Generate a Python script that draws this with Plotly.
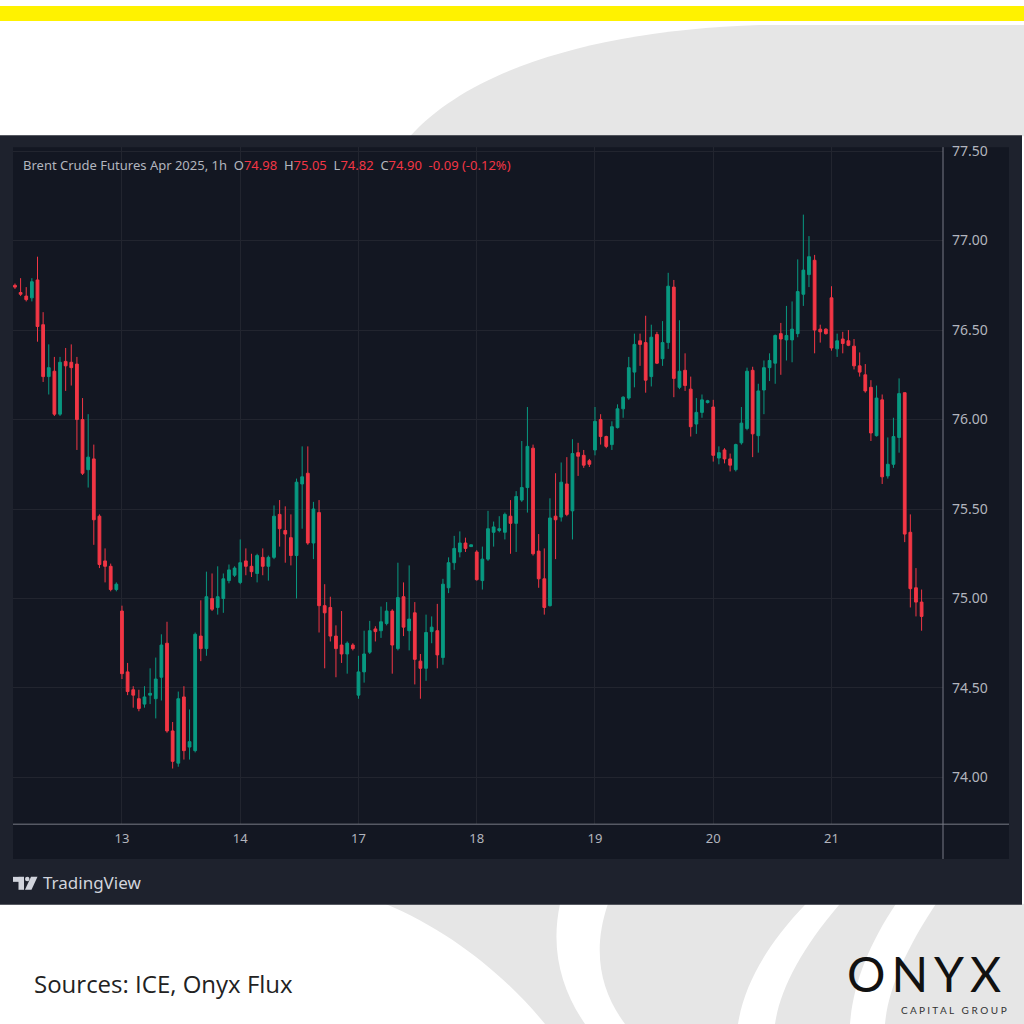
import plotly.graph_objects as go

# hourly bars, Brent Crude Futures Apr 2025 (ICE)
day_labels = ["12", "13", "14", "17", "18", "19", "20", "21"]
bars_per_day = [19, 21, 21, 21, 21, 21, 21, 17]

open_ = [
    76.75, 76.71, 76.69, 76.68, 76.78, 76.53, 76.24, 76.27, 76.03, 76.325,
    76.32, 76.31, 76.00, 75.72, 75.78, 75.46, 75.21, 75.18, 75.05,
    74.93, 74.59, 74.49, 74.44, 74.41, 74.46, 74.44, 74.56, 74.75, 74.26,
    74.08, 74.45, 74.17, 74.15, 74.79, 74.72, 75.00, 74.95, 75.00, 75.10, 75.13,
    75.09, 75.21, 75.18, 75.14, 75.23, 75.18, 75.23, 75.47, 75.38, 75.34,
    75.24, 75.64, 75.70, 75.31, 75.48, 74.96, 74.95, 74.79, 74.74, 74.69, 74.74,
    74.46, 74.59, 74.70, 74.83, 74.82, 74.86, 74.93, 74.72, 75.01, 74.82,
    74.92, 74.65, 74.61, 74.815, 74.82, 74.67, 75.06, 75.20, 75.26, 75.31, 75.29,
    75.26, 75.10, 75.22, 75.37, 75.38, 75.37, 75.46, 75.42, 75.55, 75.62,
    75.84, 75.265, 75.11, 74.96, 75.46, 75.455, 75.64, 75.49, 75.815, 75.80, 75.77,
    75.83, 76.00, 75.905, 75.86, 75.955, 76.06, 76.12, 76.265, 76.44, 76.43,
    76.24, 76.475, 76.34, 76.43, 76.74, 76.18, 76.275, 76.17, 75.975, 76.04, 76.095,
    76.07, 75.785, 75.83, 75.78, 75.72, 75.87, 75.95, 76.275, 75.91, 76.165,
    76.29, 76.315, 76.48, 76.445, 76.445, 76.48, 76.70, 76.81, 76.89, 76.505, 76.505,
    76.68, 76.395, 76.45, 76.44, 76.41, 76.30, 76.25, 76.18, 75.91, 76.11,
    75.685, 75.75, 75.90, 76.15, 75.37, 75.06, 74.98,
]
high = [
    76.76, 76.79, 76.74, 76.79, 76.91, 76.60, 76.42, 76.35, 76.35, 76.40,
    76.42, 76.35, 76.12, 76.03, 75.86, 75.47, 75.28, 75.195, 75.09,
    74.96, 74.64, 74.51, 74.49, 74.51, 74.61, 74.67, 74.80, 74.87, 74.31,
    74.48, 74.51, 74.38, 74.81, 74.99, 75.15, 75.14, 75.18, 75.14, 75.19, 75.18,
    75.33, 75.28, 75.25, 75.25, 75.28, 75.24, 75.52, 75.55, 75.515, 75.47,
    75.67, 75.85, 75.85, 75.54, 75.55, 75.08, 75.01, 74.85, 74.93, 74.76, 74.75,
    74.68, 74.82, 74.875, 74.845, 74.955, 74.98, 74.94, 75.20, 75.09, 75.185,
    74.98, 74.69, 74.91, 74.90, 74.97, 75.11, 75.23, 75.35, 75.375, 75.34, 75.30,
    75.27, 75.29, 75.49, 75.43, 75.46, 75.48, 75.55, 75.60, 75.88, 76.07,
    75.86, 75.36, 75.28, 75.56, 75.70, 75.76, 75.79, 75.89, 75.87, 75.83, 75.78,
    76.07, 76.03, 75.91, 75.99, 76.085, 76.13, 76.35, 76.48, 76.48, 76.58,
    76.53, 76.49, 76.55, 76.82, 76.78, 76.555, 76.37, 76.24, 76.12, 76.14, 76.11,
    76.11, 75.85, 75.84, 75.81, 75.865, 76.07, 76.29, 76.295, 76.20, 76.33,
    76.37, 76.475, 76.54, 76.635, 76.66, 76.895, 77.145, 77.025, 76.92, 76.53, 76.51,
    76.745, 76.48, 76.49, 76.50, 76.45, 76.375, 76.31, 76.22, 76.19, 76.14,
    75.90, 76.01, 76.23, 76.15, 75.47, 75.17, 75.05,
]
low = [
    76.73, 76.69, 76.66, 76.66, 76.435, 76.21, 76.14, 76.02, 76.02, 76.16,
    76.19, 75.83, 75.69, 75.62, 75.30, 75.17, 75.09, 75.04, 75.04,
    74.55, 74.46, 74.39, 74.37, 74.39, 74.41, 74.33, 74.43, 74.25, 74.05,
    74.06, 74.10, 74.10, 74.14, 74.65, 74.68, 74.93, 74.91, 74.92, 75.085, 75.12,
    75.08, 75.13, 75.12, 75.09, 75.13, 75.10, 75.22, 75.29, 75.20, 75.185,
    75.00, 75.39, 75.30, 75.22, 74.81, 74.61, 74.76, 74.56, 74.64, 74.58, 74.71,
    74.44, 74.53, 74.69, 74.76, 74.78, 74.85, 74.58, 74.71, 74.79, 74.71,
    74.52, 74.44, 74.54, 74.75, 74.61, 74.63, 75.03, 75.16, 75.23, 75.26, 75.29,
    75.10, 75.05, 75.21, 75.29, 75.37, 75.33, 75.25, 75.26, 75.54, 75.48,
    75.24, 75.06, 74.91, 74.955, 75.22, 75.43, 75.46, 75.33, 75.685, 75.73, 75.735,
    75.80, 75.86, 75.84, 75.83, 75.95, 76.01, 76.11, 76.18, 76.30, 76.15,
    76.185, 76.31, 76.30, 76.395, 76.125, 76.17, 76.16, 75.905, 75.92, 76.01, 76.09,
    75.765, 75.75, 75.755, 75.71, 75.71, 75.86, 75.94, 75.79, 75.815, 76.03,
    76.215, 76.20, 76.25, 76.33, 76.32, 76.46, 76.635, 76.74, 76.37, 76.43, 76.475,
    76.385, 76.35, 76.37, 76.41, 76.28, 76.24, 76.15, 75.88, 75.905, 75.64,
    75.67, 75.73, 75.815, 75.315, 74.95, 74.90, 74.82,
]
close = [
    76.74, 76.70, 76.67, 76.77, 76.52, 76.24, 76.29, 76.03, 76.32, 76.30,
    76.29, 76.00, 75.70, 75.79, 75.44, 75.19, 75.18, 75.05, 75.08,
    74.58, 74.48, 74.46, 74.385, 74.45, 74.47, 74.55, 74.74, 74.26, 74.09,
    74.44, 74.15, 74.20, 74.80, 74.72, 75.01, 74.94, 75.01, 75.11, 75.16, 75.17,
    75.20, 75.18, 75.15, 75.24, 75.18, 75.23, 75.46, 75.39, 75.36, 75.24,
    75.65, 75.68, 75.31, 75.50, 74.96, 74.92, 74.79, 74.72, 74.69, 74.75, 74.72,
    74.59, 74.69, 74.82, 74.815, 74.87, 74.93, 74.74, 75.005, 74.84, 74.885,
    74.66, 74.61, 74.81, 74.84, 74.685, 75.08, 75.20, 75.28, 75.31, 75.28, 75.30,
    75.105, 75.22, 75.39, 75.40, 75.39, 75.47, 75.42, 75.57, 75.62, 75.85,
    75.25, 75.11, 74.95, 75.45, 75.44, 75.65, 75.47, 75.81, 75.795, 75.745, 75.75,
    75.99, 75.905, 75.85, 75.96, 76.06, 76.125, 76.29, 76.42, 76.42, 76.22,
    76.46, 76.315, 76.43, 76.745, 76.23, 76.27, 76.19, 75.96, 76.04, 76.11, 76.105,
    75.80, 75.815, 75.78, 75.745, 75.86, 75.98, 76.27, 75.92, 76.16, 76.29,
    76.33, 76.47, 76.45, 76.47, 76.505, 76.715, 76.835, 76.91, 76.50, 76.49, 76.48,
    76.40, 76.44, 76.425, 76.415, 76.30, 76.265, 76.16, 75.925, 76.12, 75.68,
    75.75, 75.905, 76.145, 75.36, 75.055, 74.98, 74.90,
]

price_ticks = [74.0, 74.5, 75.0, 75.5, 76.0, 76.5, 77.0, 77.5]

W = H = 1024
UP, DOWN = "#089981", "#F23645"
FRAME, PANEL = "#1e222d", "#131722"
AXIS_TXT = "#b2b5be"
SWOOSH = "#e6e6e6"


def px(x):
    return x / W


def py(y):
    return 1 - y / H


def path(cmds):
    # cmds: list of (letter, [x0, y0, x1, y1, ...]) in pixels -> paper svg path.
    # plotly only converts one parameter group per command, so repeat the letter
    size = {"M": 2, "L": 2, "C": 6, "Q": 4}
    out = []
    for c, pts in cmds:
        if c == "Z":
            out.append("Z")
            continue
        n = size[c]
        for k in range(0, len(pts), n):
            grp = pts[k:k + n]
            xy = [f"{px(grp[i]):.5f},{py(grp[i + 1]):.5f}" for i in range(0, n, 2)]
            out.append(c + " " + " ".join(xy))
    return " ".join(out)


def blob(cmds, color, layer="below"):
    return dict(type="path", xref="paper", yref="paper", layer=layer,
                path=path(cmds), fillcolor=color, line_width=0)


def box(x0, y0, x1, y1, color, layer="below"):
    return dict(type="rect", xref="paper", yref="paper", layer=layer,
                x0=px(x0), x1=px(x1), y0=py(y1), y1=py(y0),
                fillcolor=color, line_width=0)


x = list(range(len(close)))
tickvals, pos = [], 0
for n in bars_per_day:
    tickvals.append(pos)
    pos += n
# first session is partial, no label at its start
tickvals, ticktext = tickvals[1:], day_labels[1:]

fig = go.Figure()
fig.add_trace(go.Candlestick(
    x=x, open=open_, high=high, low=low, close=close,
    increasing=dict(line=dict(color=UP, width=1), fillcolor=UP),
    decreasing=dict(line=dict(color=DOWN, width=1), fillcolor=DOWN),
    whiskerwidth=0, showlegend=False, hoverinfo="skip",
))

shapes = [
    box(0, 0, 1024, 15, "#FFF200"),
    # grey swoosh above the chart
    blob([("M", [410, 131]), ("C", [472, 62, 600, 24, 760, 19]),
          ("L", [1024, 19, 1024, 131]), ("Z", [])], SWOOSH),
    # grey swoosh below the chart, cut by white stripes
    blob([("M", [385, 903]), ("L", [1024, 903, 1024, 1024, 545, 1024]),
          ("C", [505, 975, 450, 930, 385, 903]), ("Z", [])], SWOOSH),
    blob([("M", [560, 903]), ("L", [608, 903]),
          ("C", [592, 950, 600, 990, 625, 1024]), ("L", [585, 1024]),
          ("C", [562, 990, 550, 950, 560, 903]), ("Z", [])], "white"),
    blob([("M", [806, 903]), ("L", [840, 903]),
          ("C", [800, 950, 780, 990, 775, 1024]), ("L", [738, 1024]),
          ("C", [744, 985, 766, 945, 806, 903]), ("Z", [])], "white"),
    blob([("M", [896, 903]), ("L", [936, 903]),
          ("C", [905, 950, 888, 990, 885, 1024]), ("L", [850, 1024]),
          ("C", [853, 985, 868, 945, 896, 903]), ("Z", [])], "white"),
    # TradingView frame and panel
    box(0, 130, 1022, 904, FRAME),
    box(13, 142, 1009, 858, PANEL),
    # axis separators
    dict(type="line", xref="paper", yref="paper", x0=px(13), x1=px(1009),
         y0=py(823), y1=py(823), line=dict(color="#787b86", width=1)),
    dict(type="line", xref="paper", yref="paper", x0=px(943), x1=px(943),
         y0=py(858), y1=py(142), line=dict(color="#787b86", width=1)),
    # TradingView logo mark
    box(13, 876, 24, 881, "#d1d4dc", "above"),
    box(18.5, 876, 24, 889, "#d1d4dc", "above"),
    dict(type="circle", xref="paper", yref="paper", layer="above",
         x0=px(25), x1=px(29.5), y0=py(880.5), y1=py(876),
         fillcolor="#d1d4dc", line_width=0),
    blob([("M", [31, 876]), ("L", [37.5, 876, 31.5, 889, 25, 889]), ("Z", [])],
         "#d1d4dc", "above"),
]

red = DOWN
sp = "&nbsp;"
hdr = (f"<span style='color:{AXIS_TXT}'>Brent Crude Futures Apr 2025, 1h{sp}{sp}O</span>"
       f"<span style='color:{red}'>{open_[-1]:.2f}</span>"
       f"<span style='color:{AXIS_TXT}'>{sp}{sp}H</span><span style='color:{red}'>{high[-1]:.2f}</span>"
       f"<span style='color:{AXIS_TXT}'>{sp}{sp}L</span><span style='color:{red}'>{low[-1]:.2f}</span>"
       f"<span style='color:{AXIS_TXT}'>{sp}{sp}C</span><span style='color:{red}'>{close[-1]:.2f}</span>"
       f"<span style='color:{red}'>{sp}{sp}-0.09 (-0.12%)</span>")

annotations = [
    dict(text=hdr, xref="paper", yref="paper", x=px(21), y=py(160),
         xanchor="left", yanchor="middle", showarrow=False,
         font=dict(size=13, family="Noto Sans", color=AXIS_TXT)),
    dict(text="TradingView", xref="paper", yref="paper", x=px(41), y=py(882),
         xanchor="left", yanchor="middle", showarrow=False,
         font=dict(size=17, family="Noto Sans", color="#d1d4dc")),
    dict(text="Sources: ICE, Onyx Flux", xref="paper", yref="paper",
         x=px(32), y=py(983), xanchor="left", yanchor="middle", showarrow=False,
         font=dict(size=24, family="Open Sans", color="#222222")),
    dict(text="O\u2009N\u2009Y\u2009X", xref="paper", yref="paper", x=px(1003), y=py(973),
         xanchor="right", yanchor="middle", showarrow=False,
         font=dict(size=48, family="Lato", color="#111111")),
    dict(text="C A P I T A L   G R O U P", xref="paper", yref="paper",
         x=px(1009), y=py(1010), xanchor="right", yanchor="middle",
         showarrow=False, font=dict(size=10, family="Lato", color="#333333")),
]

fig.update_layout(
    width=W, height=H, margin=dict(l=0, r=0, t=0, b=0),
    paper_bgcolor="white", plot_bgcolor="rgba(0,0,0,0)",
    shapes=shapes, annotations=annotations,
    xaxis=dict(domain=[px(13), px(943)], range=[-0.35, 164.8],
               tickvals=tickvals, ticktext=ticktext, showgrid=True,
               gridcolor="#22252f", gridwidth=1, zeroline=False, showline=False,
               rangeslider=dict(visible=False), ticks="", ticklabelstandoff=5,
               tickfont=dict(size=13, family="Noto Sans", color=AXIS_TXT)),
    yaxis=dict(domain=[py(823), py(142)], range=[73.739, 77.522], side="right",
               tickvals=price_ticks, tickformat=".2f", showgrid=True,
               gridcolor="#22252f", gridwidth=1, zeroline=False, showline=False,
               ticks="", ticklabelstandoff=8,
               tickfont=dict(size=14, family="Noto Sans", color=AXIS_TXT)),
)

# pin the figure to the top-left corner of the page (no body margin)
pin = ("document.body.style.margin='0';"
       "var gd=document.getElementsByClassName('plotly-graph-div')[0];"
       "gd.style.position='absolute';gd.style.top='0';gd.style.left='0';")
fig.write_html("out.html", config={"displayModeBar": False}, post_script=pin)
